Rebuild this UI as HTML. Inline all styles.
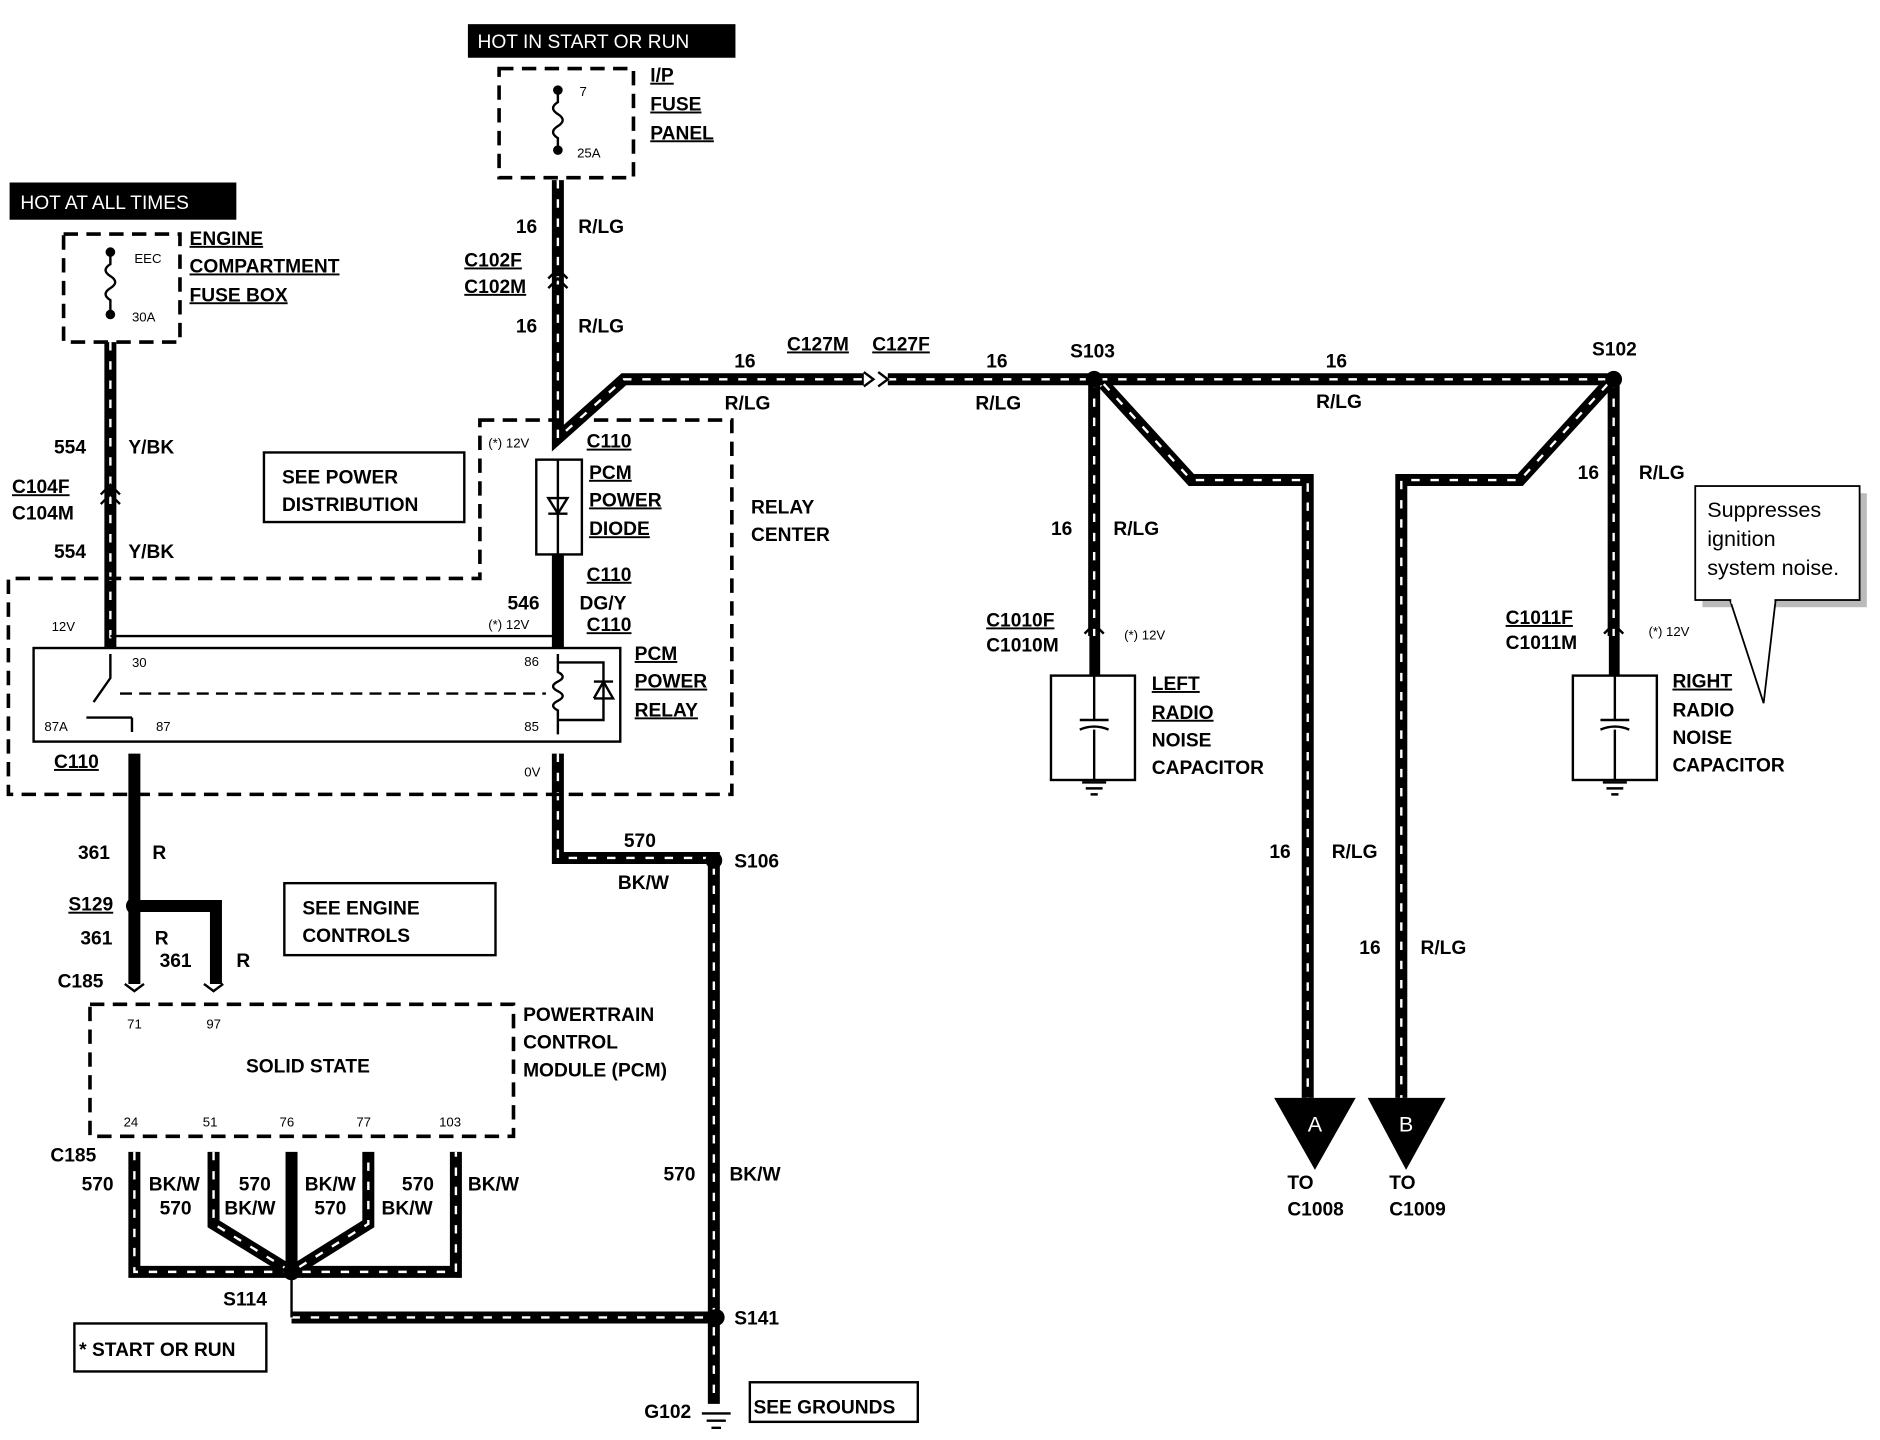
<!DOCTYPE html>
<html><head><meta charset="utf-8"><style>
html,body{margin:0;padding:0;background:#fff}
svg{display:block}
text{font-family:"Liberation Sans",Arial,sans-serif;font-weight:bold;font-size:16px;fill:#000}
.s{font-size:11px;font-weight:normal}
.u{text-decoration:underline}
.w{fill:none;stroke:#000;stroke-width:10;stroke-linejoin:miter}
.d{fill:none;stroke:#fff;stroke-width:2;stroke-dasharray:7 9}
.db{fill:none;stroke:#000;stroke-width:3;stroke-dasharray:12 7}
.t{fill:none;stroke:#000;stroke-width:2}
</style></head><body>
<svg width="1880" height="1440" viewBox="0 0 1567 1200" xmlns="http://www.w3.org/2000/svg">
<defs>
<g id="dot"><circle r="7" fill="#000"/></g>
</defs>
<!-- header boxes -->
<rect x="390" y="20" width="223" height="28" fill="#000"/>
<text x="398" y="40" fill="#fff" style="fill:#fff;font-weight:normal;font-size:16px">HOT IN START OR RUN</text>
<rect x="8" y="152" width="189" height="31" fill="#000"/>
<text x="17" y="174" style="fill:#fff;font-weight:normal;font-size:16px">HOT AT ALL TIMES</text>

<!-- IP fuse panel -->
<rect x="416" y="57" width="112" height="91" class="db"/>
<path d="M465 75 V85 q-8 5 0 10 q8 5 0 10 q-8 5 0 10 V125" class="t"/>
<circle cx="465" cy="75" r="4"/><circle cx="465" cy="125" r="4"/>
<text x="483" y="80" class="s">7</text><text x="481" y="131" class="s">25A</text>
<text x="542" y="68" class="u">I/P</text><text x="542" y="92" class="u">FUSE</text><text x="542" y="116" class="u">PANEL</text>

<!-- engine fuse box -->
<rect x="53" y="195" width="97" height="90" class="db"/>
<path d="M92 210 V220 q-8 5 0 10 q8 5 0 10 q-8 5 0 10 V262" class="t"/>
<circle cx="92" cy="210" r="4"/><circle cx="92" cy="262" r="4"/>
<text x="112" y="219" class="s">EEC</text><text x="110" y="268" class="s">30A</text>
<text x="158" y="204" class="u">ENGINE</text><text x="158" y="227" class="u">COMPARTMENT</text><text x="158" y="251" class="u">FUSE BOX</text>

<!-- main wires -->
<g>
<path d="M465 150 V365 L520 316 H720 M740 316 H1345" class="w"/>
<path d="M465 150 V365 L520 316 H720 M740 316 H1345" class="d"/>
<path d="M912 316 V530 M920 320 L993 400 H1090 V915 M1340 320 L1267 400 H1168 V915 M1345 316 V530" class="w"/>
<path d="M912 316 V530 M920 320 L993 400 H1090 V915 M1340 320 L1267 400 H1168 V915 M1345 316 V530" class="d"/>
<path d="M92 285 V540" class="w"/><path d="M92 285 V540" class="d"/>
<path d="M465 462 V540" class="w"/>
<path d="M112 628 V820 M112 755 H180 V820" class="w"/>
<path d="M465 628 V715 H595 V1170" class="w"/><path d="M465 628 V715 H595 V1170" class="d"/>
<path d="M112 960 V1060 H380 V960 M178 960 V1020 L243 1060 L307 1020 V960 M243 960 V1060" class="w"/>
<path d="M112 960 V1060 H380 V960 M178 960 V1020 L243 1060 L307 1020 V960" class="d"/>
<path d="M243 1098 H595" class="w"/><path d="M243 1098 H595" class="d"/>
<path d="M243 1060 V1098" class="t"/>
</g>
<!-- connector marks -->
<path d="M457 232 l8 -8 l8 8 M457 240 l8 -8 l8 8 M84 412 l8 -8 l8 8 M84 420 l8 -8 l8 8" class="t" stroke-width="3"/>
<path d="M720 310 l8 6 l-8 6 M732 310 l8 6 l-8 6" class="t" stroke-width="3"/>
<path d="M904 528 l8 -8 l8 8 M1337 528 l8 -8 l8 8" class="t" stroke-width="3"/>
<rect x="908" y="530" width="9" height="33"/><rect x="1341" y="530" width="9" height="33"/>
<path d="M104 820 l8 6 l8 -6 M170 820 l8 6 l8 -6" class="t" stroke-width="3"/>
<use href="#dot" x="912" y="316"/><use href="#dot" x="1345" y="316"/><use href="#dot" x="112" y="755"/>
<use href="#dot" x="595" y="717"/><use href="#dot" x="243" y="1060"/><use href="#dot" x="597" y="1098"/>
<!-- ground -->
<path d="M585 1178 H609 M589 1184 H605 M593 1190 H601" class="t"/>

<!-- arrows -->
<polygon points="1062,915 1130,915 1096,975"/><text x="1090" y="943" style="fill:#fff;font-weight:normal;font-size:18px">A</text>
<polygon points="1140,915 1205,915 1172,975"/><text x="1166" y="943" style="fill:#fff;font-weight:normal;font-size:18px">B</text>
<text x="1073" y="991">TO</text><text x="1073" y="1013">C1008</text>
<text x="1158" y="991">TO</text><text x="1158" y="1013">C1009</text>

<!-- capacitors -->
<rect x="876" y="563" width="70" height="87" class="t" stroke-width="3"/>
<path d="M912 563 V600 M900 600 H924 M900 608 q12 -5 24 0 M912 608 V650 M902 652 H922 M905 657 H919 M909 662 H915" class="t"/>
<rect x="1311" y="563" width="70" height="87" class="t" stroke-width="3"/>
<path d="M1346 563 V600 M1334 600 H1358 M1334 608 q12 -5 24 0 M1346 608 V650 M1336 652 H1356 M1339 657 H1353 M1343 662 H1349" class="t"/>
<text x="960" y="575" class="u">LEFT</text><text x="960" y="599" class="u">RADIO</text><text x="960" y="622">NOISE</text><text x="960" y="645">CAPACITOR</text>
<text x="1394" y="573" class="u">RIGHT</text><text x="1394" y="597">RADIO</text><text x="1394" y="620">NOISE</text><text x="1394" y="643">CAPACITOR</text>

<!-- callout -->
<rect x="1419" y="411" width="137" height="95" fill="#bbb"/>
<polygon points="1442,500 1480,500 1470,586" fill="#fff" stroke="#000" stroke-width="1.5"/>
<rect x="1413" y="405" width="137" height="95" fill="#fff" stroke="#000" stroke-width="1.5"/>
<rect x="1443" y="495" width="36" height="8" fill="#fff"/>
<text x="1423" y="431" style="font-weight:normal;font-size:18px">Suppresses</text>
<text x="1423" y="455" style="font-weight:normal;font-size:18px">ignition</text>
<text x="1423" y="479" style="font-weight:normal;font-size:18px">system noise.</text>

<!-- relay center -->
<path d="M400 350 H610 V662 H7 V482 H400 Z" class="db"/>
<text x="626" y="428">RELAY</text><text x="626" y="451">CENTER</text>
<rect x="220" y="377" width="167" height="58" class="t"/>
<text x="235" y="403">SEE POWER</text><text x="235" y="426">DISTRIBUTION</text>

<!-- diode -->
<rect x="447" y="383" width="38" height="79" class="t" stroke-width="3"/>
<path d="M465 383 V462 M457 415 H473 L465 428 Z M457 428 H473" class="t"/>
<text x="491" y="399" class="u">PCM</text><text x="491" y="422" class="u">POWER</text><text x="491" y="446" class="u">DIODE</text>
<text x="489" y="373" class="u">C110</text><text x="407" y="373" class="s">(*) 12V</text>
<text x="489" y="484" class="u">C110</text><text x="423" y="508">546</text><text x="483" y="508">DG/Y</text>
<text x="407" y="524" class="s">(*) 12V</text><text x="489" y="526" class="u">C110</text>
<path d="M92 530 H465" class="t" stroke-width="1.5"/>
<text x="43" y="526" class="s">12V</text>

<!-- relay -->
<rect x="28" y="540" width="489" height="78" class="t" stroke-width="3"/>
<text x="110" y="556" class="s">30</text><text x="437" y="555" class="s">86</text>
<text x="37" y="609" class="s">87A</text><text x="130" y="609" class="s">87</text><text x="437" y="609" class="s">85</text>
<path d="M92 545 V565 L78 585 M70 598 V598 M72 598 H110 M110 598 V610" class="t"/>
<path d="M100 578 H455" class="t" stroke-dasharray="10 6"/>
<path d="M465 545 V560 q8 4 0 8 q-8 4 0 8 q8 4 0 8 q-8 4 0 8 V612 M465 552 H503 V600 H465 M495 568 H511 M495 582 H511 L503 568 L495 582" class="t"/>
<text x="529" y="550" class="u">PCM</text><text x="529" y="573" class="u">POWER</text><text x="529" y="597" class="u">RELAY</text>
<text x="45" y="640" class="u">C110</text><text x="437" y="647" class="s">0V</text>

<!-- wire labels -->
<text x="430" y="194">16</text><text x="482" y="194">R/LG</text>
<text x="387" y="222" class="u">C102F</text><text x="387" y="244" class="u">C102M</text>
<text x="430" y="277">16</text><text x="482" y="277">R/LG</text>
<text x="612" y="306">16</text><text x="604" y="341">R/LG</text>
<text x="656" y="292" class="u">C127M</text><text x="727" y="292" class="u">C127F</text>
<text x="822" y="306">16</text><text x="813" y="341">R/LG</text>
<text x="892" y="298">S103</text>
<text x="1105" y="306">16</text><text x="1097" y="340">R/LG</text>
<text x="1327" y="296">S102</text>
<text x="876" y="446">16</text><text x="928" y="446">R/LG</text>
<text x="1315" y="399">16</text><text x="1366" y="399">R/LG</text>
<text x="822" y="522" class="u">C1010F</text><text x="822" y="543">C1010M</text><text x="937" y="533" class="s">(*) 12V</text>
<text x="1255" y="520" class="u">C1011F</text><text x="1255" y="541">C1011M</text><text x="1374" y="530" class="s">(*) 12V</text>
<text x="1058" y="715">16</text><text x="1110" y="715">R/LG</text>
<text x="1133" y="795">16</text><text x="1184" y="795">R/LG</text>
<text x="45" y="378">554</text><text x="107" y="378">Y/BK</text>
<text x="10" y="411" class="u">C104F</text><text x="10" y="433">C104M</text>
<text x="45" y="465">554</text><text x="107" y="465">Y/BK</text>
<text x="65" y="716">361</text><text x="127" y="716">R</text>
<text x="57" y="759" class="u">S129</text>
<text x="67" y="787">361</text><text x="129" y="787">R</text>
<text x="133" y="806">361</text><text x="197" y="806">R</text>
<text x="48" y="823">C185</text>
<text x="520" y="706">570</text><text x="515" y="741">BK/W</text><text x="612" y="723">S106</text>
<rect x="237" y="736" width="176" height="60" class="t"/>
<text x="252" y="762">SEE ENGINE</text><text x="252" y="785">CONTROLS</text>

<!-- PCM -->
<rect x="75" y="837" width="353" height="110" class="db"/>
<text x="106" y="857" class="s">71</text><text x="172" y="857" class="s">97</text>
<text x="205" y="894">SOLID STATE</text>
<text x="103" y="939" class="s">24</text><text x="169" y="939" class="s">51</text><text x="233" y="939" class="s">76</text><text x="297" y="939" class="s">77</text><text x="366" y="939" class="s">103</text>
<text x="436" y="851">POWERTRAIN</text><text x="436" y="874">CONTROL</text><text x="436" y="897">MODULE (PCM)</text>
<text x="42" y="968">C185</text>
<text x="68" y="992">570</text><text x="124" y="992">BK/W</text><text x="133" y="1012">570</text>
<text x="199" y="992">570</text><text x="187" y="1012">BK/W</text>
<text x="254" y="992">BK/W</text><text x="262" y="1012">570</text>
<text x="335" y="992">570</text><text x="318" y="1012">BK/W</text>
<text x="390" y="992">BK/W</text>
<text x="186" y="1088">S114</text>
<text x="553" y="984">570</text><text x="608" y="984">BK/W</text>
<text x="612" y="1104">S141</text>
<text x="537" y="1182">G102</text>
<rect x="625" y="1152" width="140" height="33" class="t"/>
<text x="628" y="1178">SEE GROUNDS</text>
<rect x="62" y="1103" width="160" height="40" class="t"/>
<text x="66" y="1130">* START OR RUN</text>
</svg>
</body></html>
